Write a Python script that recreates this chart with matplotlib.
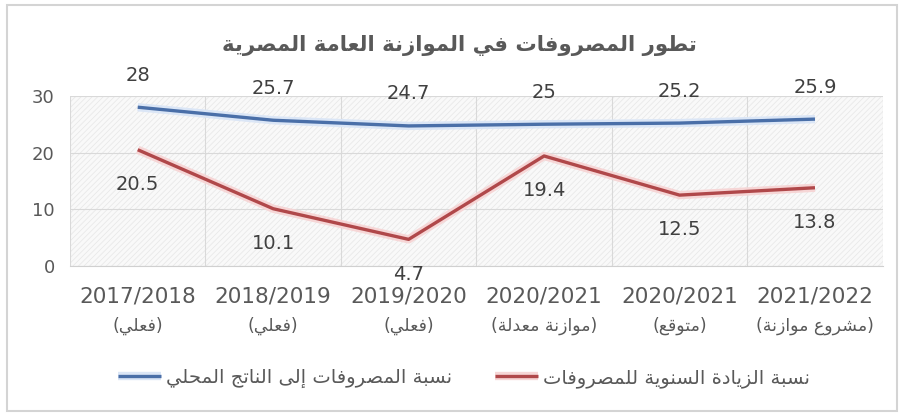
import matplotlib.pyplot as plt
from matplotlib.patches import Rectangle
import matplotlib.patheffects as pe

# Arabic contextual forms (Presentation Forms-B); matplotlib has no shaping engine
FOUR = {'ئ': 0xFE89, 'ب': 0xFE8F, 'ت': 0xFE95, 'ث': 0xFE99, 'ج': 0xFE9D, 'ح': 0xFEA1,
        'خ': 0xFEA5, 'س': 0xFEB1, 'ش': 0xFEB5, 'ص': 0xFEB9, 'ض': 0xFEBD, 'ط': 0xFEC1,
        'ظ': 0xFEC5, 'ع': 0xFEC9, 'غ': 0xFECD, 'ف': 0xFED1, 'ق': 0xFED5, 'ك': 0xFED9,
        'ل': 0xFEDD, 'م': 0xFEE1, 'ن': 0xFEE5, 'ه': 0xFEE9, 'ي': 0xFEF1}
TWO = {'آ': 0xFE81, 'أ': 0xFE83, 'ؤ': 0xFE85, 'إ': 0xFE87, 'ا': 0xFE8D, 'ة': 0xFE93,
       'د': 0xFEA9, 'ذ': 0xFEAB, 'ر': 0xFEAD, 'ز': 0xFEAF, 'و': 0xFEED, 'ى': 0xFEEF}
ONE = {'ء': 0xFE80}
LAM_ALEF = {'آ': 0xFEF5, 'أ': 0xFEF7, 'إ': 0xFEF9, 'ا': 0xFEFB}


def ar(text):
    out = []
    prev_joins = False
    i = 0
    while i < len(text):
        c = text[i]
        nxt = text[i + 1] if i + 1 < len(text) else ''
        if c == 'ل' and nxt in LAM_ALEF:
            out.append(chr(LAM_ALEF[nxt] + (1 if prev_joins else 0)))
            prev_joins = False
            i += 2
            continue
        if c in FOUR:
            next_joins = nxt in FOUR or nxt in TWO or nxt in ONE
            base = FOUR[c]
            if prev_joins and next_joins:
                out.append(chr(base + 3))
            elif prev_joins:
                out.append(chr(base + 1))
            elif next_joins:
                out.append(chr(base + 2))
            else:
                out.append(chr(base))
            prev_joins = next_joins
        elif c in TWO:
            out.append(chr(TWO[c] + (1 if prev_joins else 0)))
            prev_joins = False
        elif c in ONE:
            out.append(chr(ONE[c]))
            prev_joins = False
        else:
            out.append(c)
            prev_joins = False
        i += 1
    vis = ''.join(reversed(out))
    return vis.translate(str.maketrans('()', ')('))


title = 'تطور المصروفات في الموازنة العامة المصرية'
years = ['2017/2018', '2018/2019', '2019/2020', '2020/2021', '2020/2021', '2021/2022']
status = ['(فعلي)', '(فعلي)', '(فعلي)', '(موازنة معدلة)', '(متوقع)', '(مشروع موازنة)']
gdp_share = [28, 25.7, 24.7, 25, 25.2, 25.9]
annual_growth = [20.5, 10.1, 4.7, 19.4, 12.5, 13.8]
label_gdp = 'نسبة المصروفات إلى الناتج المحلي'
label_growth = 'نسبة الزيادة السنوية للمصروفات'

plt.rcParams['font.family'] = ['DejaVu Sans']
plt.rcParams['hatch.linewidth'] = 0.6

blue = '#4A6FA8'
red = '#B0484A'
text_gray = '#595959'

fig = plt.figure(figsize=(9.01, 4.15), dpi=100)
ax = fig.add_axes([0.0777, 0.359, 0.902, 0.41])

# textured plot area
ax.add_patch(Rectangle((0, 0), 1, 1, transform=ax.transAxes, facecolor='#f9f9f9',
                       edgecolor='#e9e9e9', hatch='//////', lw=0, zorder=0))

x = list(range(len(years)))
glow_b = [pe.Stroke(linewidth=6, foreground='#dbe6f6'), pe.Normal()]
glow_r = [pe.Stroke(linewidth=6, foreground='#f6d6d6'), pe.Normal()]
ax.plot(x, gdp_share, color=blue, lw=2.4, path_effects=glow_b,
        label=ar(label_gdp), solid_capstyle='butt', zorder=3)
ax.plot(x, annual_growth, color=red, lw=2.4, path_effects=glow_r,
        label=ar(label_growth), solid_capstyle='butt', zorder=3)

for xi, v in zip(x, gdp_share):
    ax.annotate(f'{v:g}', (xi, v), xytext=(0, 23), textcoords='offset points',
                ha='center', va='center', fontsize=14, color='#404040',
                annotation_clip=False)
for xi, v in zip(x, annual_growth):
    ax.annotate(f'{v:g}', (xi, v), xytext=(0, -25), textcoords='offset points',
                ha='center', va='center', fontsize=14, color='#404040',
                annotation_clip=False)

ax.set_xlim(-0.5, len(years) - 0.5)
ax.set_ylim(0, 30)
ax.set_yticks([0, 10, 20, 30])
ax.set_xticks(x)
ax.set_xticklabels(years, fontsize=15.5, color=text_gray)
ax.tick_params(axis='y', length=0, pad=11, labelsize=13, labelcolor=text_gray)
ax.tick_params(axis='x', length=0, pad=15)

for xi, s in zip(x, status):
    ax.text(xi, -0.353, ar(s), transform=ax.get_xaxis_transform(),
            ha='center', va='center', fontsize=12.5, color=text_gray)

ax.set_xticks([i - 0.5 for i in range(len(years) + 1)], minor=True)
ax.grid(True, which='minor', axis='x', color='#d9d9d9', lw=0.8)
ax.grid(True, which='major', axis='y', color='#d9d9d9', lw=0.8)
ax.set_axisbelow(True)
ax.tick_params(which='minor', length=0)
for side in ['top', 'right', 'left']:
    ax.spines[side].set_visible(False)
ax.spines['bottom'].set_color('#d0d0d0')

fig.text(0.51, 0.89, ar(title), ha='center', va='center', fontsize=15.3,
         fontweight='bold', color=text_gray)

handles, labels = ax.get_legend_handles_labels()
fig.legend(handles, labels, loc='center', bbox_to_anchor=(0.515, 0.089), ncol=2,
           frameon=False, fontsize=14, handlelength=2.2, handletextpad=0.25,
           columnspacing=2.2, labelcolor=text_gray)

fig.add_artist(Rectangle((7 / 901, 4 / 415), 890 / 901, 406 / 415,
                         transform=fig.transFigure, fill=False,
                         edgecolor='#d4d4d4', lw=1.5))

fig.savefig('out.png', dpi=100)
